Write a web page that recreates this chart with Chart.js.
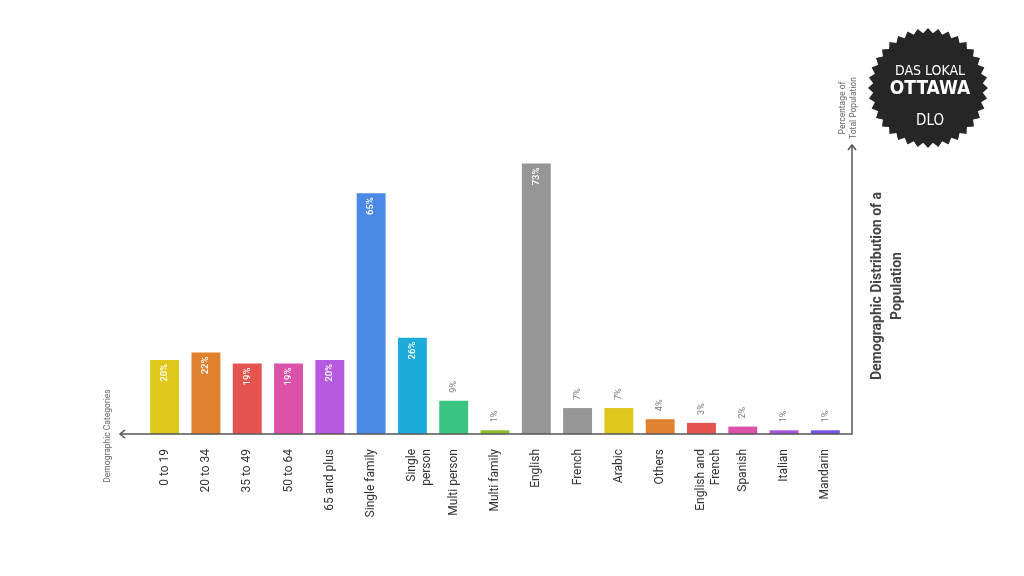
<!DOCTYPE html>
<html>
<head>
<meta charset="utf-8">
<script src="https://cdn.jsdelivr.net/npm/chart.js@4/dist/chart.umd.min.js"></script>
<style>
html,body{margin:0;padding:0;background:#fff;}
#wrap{width:1024px;height:576px;position:relative;}
</style>
</head>
<body>
<div id="wrap"><canvas id="c" width="1024" height="576"></canvas></div>
<script>
const categories = [
  '0 to 19', '20 to 34', '35 to 49', '50 to 64', '65 and plus',
  'Single family', ['Single', 'person'], 'Multi person', 'Multi family',
  'English', 'French', 'Arabic', 'Others', ['English and', 'French'],
  'Spanish', 'Italian', 'Mandarin'
];
const values = [20, 22, 19, 19, 20, 65, 26, 9, 1, 73, 7, 7, 4, 3, 2, 1, 1];
const barColors = [
  '#DFC81C', '#E0812F', '#E5544E', '#DD52A9', '#B65AE0',
  '#4A89E5', '#1DABDA', '#3AC47F', '#8CBF28',
  '#969696', '#969696', '#DFC81C', '#E0812F', '#E5544E',
  '#DD52A9', '#A954E1', '#7A52E8'
];
const xAxisTitle = 'Demographic Categories';
const yAxisTitle = ['Percentage of', 'Total Population'];
const chartTitle = ['Demographic Distribution of a', 'Population'];
const logoLines = ['DAS LOKAL', 'OTTAWA', 'DLO'];

const decor = {
  id: 'decor',
  afterDatasetsDraw(chart) {
    const ctx = chart.ctx;
    const meta = chart.getDatasetMeta(0);
    meta.data.forEach((bar, i) => {
      const v = values[i];
      const txt = v + '%';
      ctx.save();
      ctx.translate(bar.x, bar.y);
      ctx.rotate(-Math.PI / 2);
      ctx.textBaseline = 'middle';
      if (v >= 15) {
        ctx.font = '500 9.5px Roboto';
        ctx.fillStyle = '#ffffff';
        ctx.textAlign = 'right';
        ctx.fillText(txt, -4, 0);
      } else {
        ctx.font = '9px Roboto';
        ctx.fillStyle = '#777777';
        ctx.textAlign = 'left';
        ctx.fillText(txt, 8, 0);
      }
      ctx.restore();
    });
  },
  afterDraw(chart) {
    const ctx = chart.ctx;
    const a = chart.chartArea;
    const yBase = a.bottom;
    const xLeft = 120, xRight = a.right + 6;
    ctx.save();
    ctx.strokeStyle = '#555555';
    ctx.lineWidth = 1.5;
    ctx.beginPath();
    ctx.moveTo(xLeft, yBase);
    ctx.lineTo(xRight, yBase);
    ctx.lineTo(xRight, a.top);
    ctx.stroke();
    ctx.beginPath();
    ctx.moveTo(xLeft + 5, yBase - 4);
    ctx.lineTo(xLeft, yBase);
    ctx.lineTo(xLeft + 5, yBase + 4);
    ctx.stroke();
    ctx.beginPath();
    ctx.moveTo(xRight - 4, a.top + 5);
    ctx.lineTo(xRight, a.top);
    ctx.lineTo(xRight + 4, a.top + 5);
    ctx.stroke();
    ctx.restore();

    ctx.save();
    ctx.translate(108, 436);
    ctx.rotate(-Math.PI / 2);
    ctx.font = '8.5px Roboto';
    ctx.fillStyle = '#666666';
    ctx.textAlign = 'center';
    ctx.textBaseline = 'middle';
    ctx.fillText(xAxisTitle, 0, 0);
    ctx.restore();

    ctx.save();
    ctx.translate(848, 108);
    ctx.rotate(-Math.PI / 2);
    ctx.font = '8.5px Roboto';
    ctx.fillStyle = '#666666';
    ctx.textAlign = 'center';
    ctx.textBaseline = 'middle';
    ctx.fillText(yAxisTitle[0], 0, -5.5);
    ctx.fillText(yAxisTitle[1], 0, 5.5);
    ctx.restore();

    ctx.save();
    ctx.translate(887, 286);
    ctx.rotate(-Math.PI / 2);
    ctx.font = 'bold 14px Roboto';
    ctx.fillStyle = '#444444';
    ctx.textAlign = 'center';
    ctx.textBaseline = 'middle';
    ctx.fillText(chartTitle[0], 0, -10);
    ctx.fillText(chartTitle[1], 0, 10);
    ctx.restore();

    const cx = 928, cy = 88, rOut = 60, rIn = 55, teeth = 36;
    ctx.save();
    ctx.beginPath();
    for (let k = 0; k < teeth * 2; k++) {
      const ang = (k / (teeth * 2)) * Math.PI * 2 - Math.PI / 2;
      const r = k % 2 === 0 ? rOut : rIn;
      const px = cx + r * Math.cos(ang), py = cy + r * Math.sin(ang);
      if (k === 0) ctx.moveTo(px, py); else ctx.lineTo(px, py);
    }
    ctx.closePath();
    ctx.fillStyle = '#262626';
    ctx.fill();
    ctx.fillStyle = '#ffffff';
    ctx.textAlign = 'center';
    ctx.textBaseline = 'middle';
    ctx.font = '14px "DejaVu Sans Condensed", "DejaVu Sans"';
    ctx.fillText(logoLines[0], cx + 2, 71);
    ctx.font = 'bold 19px "DejaVu Sans Condensed", "DejaVu Sans"';
    ctx.fillText(logoLines[1], cx + 2, 89);
    ctx.font = '15px "DejaVu Sans Condensed", "DejaVu Sans"';
    ctx.fillText(logoLines[2], cx + 2, 121);
    ctx.restore();
  }
};

new Chart(document.getElementById('c'), {
  type: 'bar',
  data: {
    labels: categories,
    datasets: [{
      data: values,
      backgroundColor: barColors,
      borderWidth: 0,
      categoryPercentage: 1,
      barPercentage: 0.7
    }]
  },
  options: {
    responsive: false,
    animation: false,
    devicePixelRatio: 1,
    layout: { padding: { left: 144, right: 178, top: 145, bottom: 0 } },
    plugins: { legend: { display: false }, tooltip: { enabled: false } },
    scales: {
      x: {
        grid: { display: false },
        border: { display: false },
        ticks: {
          minRotation: 90, maxRotation: 90, autoSkip: false,
          padding: 7,
          color: '#333333',
          font: { family: 'Roboto', size: 12 }
        },
        afterFit(s) { s.height = 142; }
      },
      y: {
        display: false,
        min: 0,
        max: 78
      }
    }
  },
  plugins: [decor]
});
</script>
</body>
</html>
